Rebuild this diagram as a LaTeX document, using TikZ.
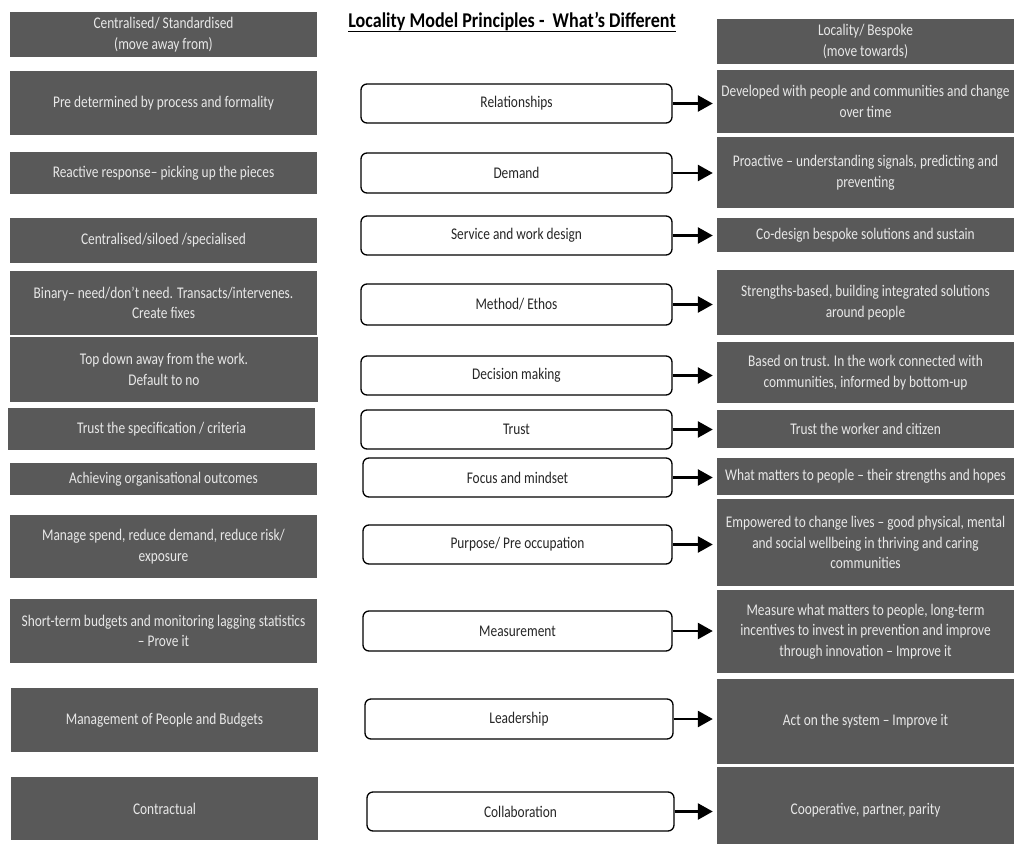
\documentclass[tikz,border=0pt]{standalone}
\usepackage{fontspec}
\setmainfont{Carlito}[FakeStretch=0.82]
\newfontfamily\titlefont{Carlito}[FakeStretch=0.86]
\usetikzlibrary{arrows.meta}
\definecolor{boxgrey}{HTML}{595959}
\definecolor{boxtext}{HTML}{E8E8E8}
\tikzset{
  darkbox/.style={fill=boxgrey, draw=none, text=boxtext, align=center, inner sep=0pt,
    font=\fontsize{16.3}{20.5}\selectfont},
  midbox/.style={draw=black, line width=1.3pt, rounded corners=6pt, fill=white,
    text=black!85, align=center, inner sep=0pt, font=\fontsize{16.3}{20.5}\selectfont},
  arr/.style={line width=2.6pt, -{Triangle[length=15pt,width=16pt]}}
}
% \bx{style}{name}{x1}{y1}{x2}{y2}{text}
\newcommand\bx[7]{%
  \node[#1, minimum width={(#5-#3)*1pt}, minimum height={(#6-#4)*1pt}]
    (#2) at ({(#3+#5)/2},{(#4+#6)/2}) {#7};}
\begin{document}
\begin{tikzpicture}[x=1pt,y=-1pt]
\useasboundingbox (0,0) rectangle (1014,843);
\fill[white] (0,0) rectangle (1014,843);
% title
\node[font=\titlefont\fontsize{21}{22}\selectfont\bfseries, inner sep=0pt, anchor=base]
  (title) at (512,28) {Locality Model Principles -\ \ What’s Different};
\draw[line width=1.4pt] ([yshift=-3.5pt]title.base west) -- ([yshift=-3.5pt]title.base east);
% left column
\bx{darkbox}{L0}{10}{12}{317}{57}{Centralised/ Standardised\\(move away from)}
\bx{darkbox}{L1}{10}{71}{317}{135}{Pre determined by process and formality}
\bx{darkbox}{L2}{10}{152}{317}{194}{Reactive response– picking up the pieces}
\bx{darkbox}{L3}{10}{218}{317}{263}{Centralised/siloed /specialised}
\bx{darkbox}{L4}{10}{271}{317}{335}{Binary– need/don’t need. Transacts/intervenes.\\Create fixes}
\bx{darkbox}{L5}{10}{337}{318}{402}{Top down away from the work.\\Default to no}
\bx{darkbox}{L6}{8}{408}{315}{450}{Trust the specification / criteria}
\bx{darkbox}{L7}{10}{463}{317}{495}{Achieving organisational outcomes}
\bx{darkbox}{L8}{10}{515}{317}{578}{Manage spend, reduce demand, reduce risk/\\exposure}
\bx{darkbox}{L9}{10}{599}{317}{663}{Short-term budgets and monitoring lagging statistics\\– Prove it}
\bx{darkbox}{L10}{11}{688}{318}{752}{Management of People and Budgets}
\bx{darkbox}{L11}{11}{777}{318}{840}{Contractual}
% middle column
\bx{midbox}{M1}{361}{84}{672}{123}{Relationships}
\bx{midbox}{M2}{361}{153}{672}{193}{Demand}
\bx{midbox}{M3}{361}{216}{672}{255}{Service and work design}
\bx{midbox}{M4}{361}{284}{672}{325}{Method/ Ethos}
\bx{midbox}{M5}{361}{356}{672}{395}{Decision making}
\bx{midbox}{M6}{361}{410}{672}{449}{Trust}
\bx{midbox}{M7}{363}{458}{672}{497}{Focus and mindset}
\bx{midbox}{M8}{363}{525}{672}{564}{Purpose/ Pre occupation}
\bx{midbox}{M9}{363}{611}{672}{651}{Measurement}
\bx{midbox}{M10}{365}{699}{673}{739}{Leadership}
\bx{midbox}{M11}{367}{792}{674}{831}{Collaboration}
% right column
\bx{darkbox}{R0}{717}{19}{1014}{64}{Locality/ Bespoke\\(move towards)}
\bx{darkbox}{R1}{717}{70}{1014}{133}{Developed with people and communities and change\\over time}
\bx{darkbox}{R2}{717}{137}{1014}{208}{Proactive – understanding signals, predicting and\\preventing}
\bx{darkbox}{R3}{717}{218}{1014}{252}{Co-design bespoke solutions and sustain}
\bx{darkbox}{R4}{717}{270}{1014}{335}{Strengths-based, building integrated solutions\\around people}
\bx{darkbox}{R5}{717}{342}{1014}{403}{Based on trust. In the work connected with\\communities, informed by bottom-up}
\bx{darkbox}{R6}{717}{410}{1014}{448}{Trust the worker and citizen}
\bx{darkbox}{R7}{717}{458}{1014}{495}{What matters to people – their strengths and hopes}
\bx{darkbox}{R8}{717}{499}{1014}{586}{Empowered to change lives – good physical, mental\\and social wellbeing in thriving and caring\\communities}
\bx{darkbox}{R9}{717}{590}{1014}{673}{Measure what matters to people, long-term\\incentives to invest in prevention and improve\\through innovation – Improve it}
\bx{darkbox}{R10}{717}{679}{1014}{764}{Act on the system – Improve it}
\bx{darkbox}{R11}{717}{767}{1014}{853}{Cooperative, partner, parity}
% arrows
\foreach \i in {1,...,11}{
  \draw[arr] (M\i.east) -- ([xshift=-4pt]M\i.east -| R\i.west);
}
\end{tikzpicture}
\end{document}
